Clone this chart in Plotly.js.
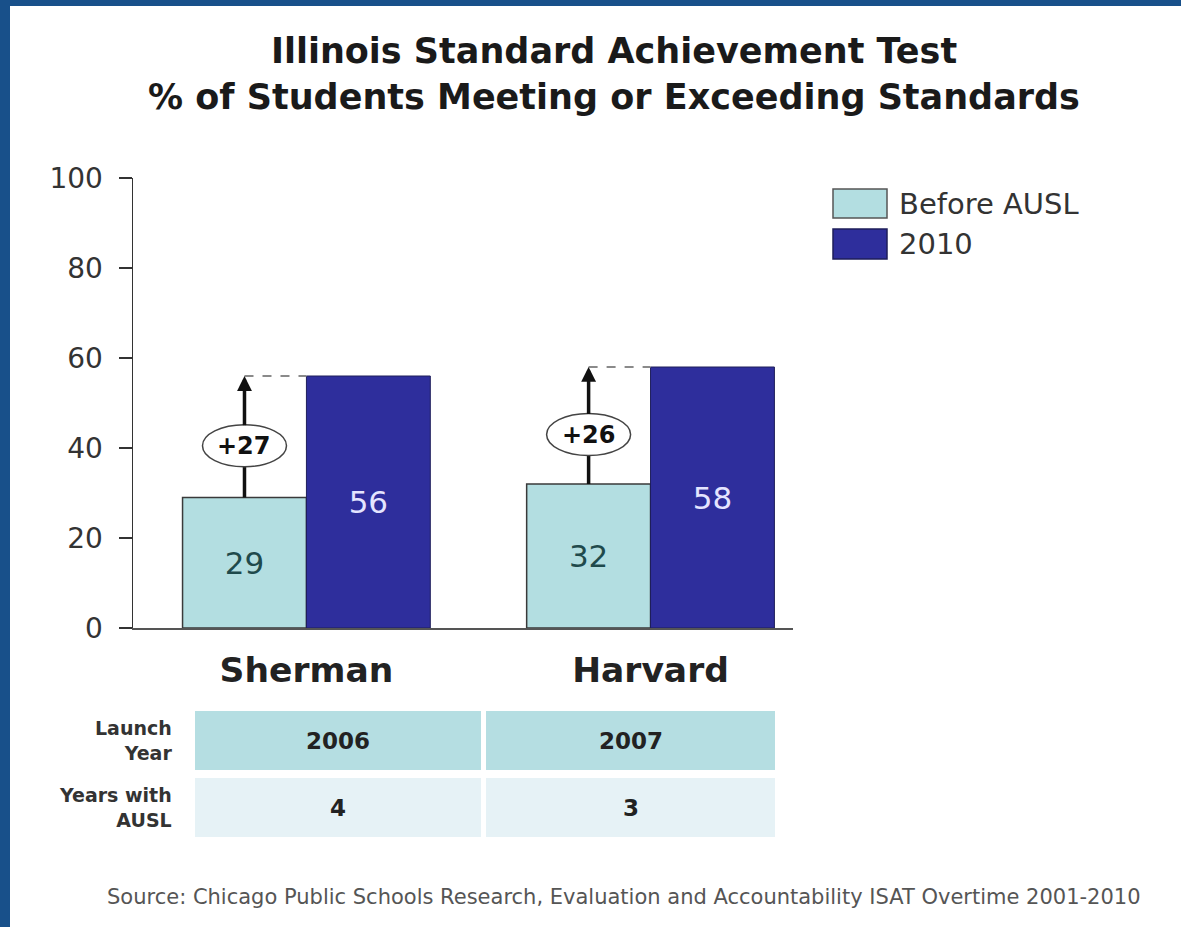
<!DOCTYPE html>
<html>
<head>
<meta charset="utf-8">
<script src="https://cdn.plot.ly/plotly-3.0.1.min.js"></script>
<style>
html,body{margin:0;padding:0;background:#18508A;width:1181px;height:927px;overflow:hidden;}
#chart{position:absolute;left:10px;top:6px;width:1171px;height:921px;background:#fff;}
</style>
</head>
<body>
<div id="chart"></div>
<script>
// ---- data ----
const schools = ["Sherman", "Harvard"];
const beforeAUSL = [29, 32];
const y2010 = [56, 58];
const gains = ["+27", "+26"];
const seriesNames = ["Before AUSL", "2010"];
const tableRowLabels = ["Launch<br>Year", "Years with<br>AUSL"];
const launchYear = ["2006", "2007"];
const yearsWithAUSL = ["4", "3"];
const yTicks = [0, 20, 40, 60, 80, 100];
const titleText = "Illinois Standard Achievement Test<br>% of Students Meeting or Exceeding Standards";
const sourceText = "Source: Chicago Public Schools Research, Evaluation and Accountability ISAT Overtime 2001-2010";

// ---- layout helpers (page px -> paper) ----
const PL = 133, PR = 793, PT = 178, PB = 628;
const X = px => (px - PL) / (PR - PL);
const Y = py => (PB - py) / (PB - PT);

const FONT = "'DejaVu Sans', 'Open Sans', sans-serif";
const C_BEFORE = "#B3DEE1", C_2010 = "#2E2E9C";

const traces = [
  {type: "bar", name: seriesNames[0], x: schools, y: beforeAUSL,
   text: beforeAUSL.map(String), textposition: "inside", insidetextanchor: "middle",
   textfont: {family: FONT, size: 31, color: "#1F4A4C"}, textangle: 0,
   marker: {color: C_BEFORE, line: {color: "#3a3a3a", width: 1.5}}, hoverinfo: "x+y"},
  {type: "bar", name: seriesNames[1], x: schools, y: y2010,
   text: y2010.map(String), textposition: "inside", insidetextanchor: "middle",
   textfont: {family: FONT, size: 31, color: "#E4E4FF"}, textangle: 0,
   marker: {color: C_2010, line: {color: "#1e1e5a", width: 1}}, hoverinfo: "x+y"}
];

const barHalf = 0.18; // half of bar width in category units (bargap 0.28)
const shapes = [], annotations = [];

schools.forEach((s, i) => {
  const xc = i - barHalf;
  const mid = (beforeAUSL[i] + y2010[i]) / 2 - 2;
  shapes.push({type: "line", xref: "x", yref: "y", x0: xc, x1: i, y0: y2010[i], y1: y2010[i],
    line: {color: "#8a8a8a", width: 2, dash: "dash"}, layer: "above"});
  shapes.push({type: "line", xref: "x", yref: "y", x0: xc, x1: xc, y0: beforeAUSL[i], y1: mid,
    line: {color: "#111", width: 3.5}, layer: "above"});
  shapes.push({type: "circle", xref: "x", yref: "y", xsizemode: "pixel", ysizemode: "pixel",
    xanchor: xc, yanchor: mid, x0: -42, x1: 42, y0: -21, y1: 21,
    fillcolor: "#fff", line: {color: "#444", width: 1.5}, layer: "above"});
  annotations.push({xref: "x", yref: "y", axref: "x", ayref: "y", x: xc, y: y2010[i], ax: xc, ay: mid,
    text: "<b>" + gains[i] + "</b>", font: {family: FONT, size: 24, color: "#111"},
    showarrow: true, arrowhead: 2, arrowsize: 0.85, arrowwidth: 3.5, arrowcolor: "#111",
    startstandoff: 5, standoff: 0});
});

// legend (custom)
const legendItems = [
  {name: seriesNames[0], color: C_BEFORE, line: "#555", y0: 189, y1: 218, ty: 204},
  {name: seriesNames[1], color: C_2010, line: "#1e1e5a", y0: 229, y1: 259, ty: 244}
];
legendItems.forEach(it => {
  shapes.push({type: "rect", xref: "paper", yref: "paper", x0: X(833), x1: X(887), y0: Y(it.y1), y1: Y(it.y0),
    fillcolor: it.color, line: {color: it.line, width: 1.5}});
  annotations.push({xref: "paper", yref: "paper", x: X(897), y: Y(it.ty), xanchor: "left", yanchor: "middle",
    text: it.name, showarrow: false, font: {family: FONT, size: 29, color: "#333"}});
});

// table
const rows = [
  {label: tableRowLabels[0], vals: launchYear, color: "#B5DEE2", y0: 711, y1: 770},
  {label: tableRowLabels[1], vals: yearsWithAUSL, color: "#E6F2F6", y0: 778, y1: 837}
];
const cols = [[195, 481], [486, 775]];
rows.forEach(r => {
  cols.forEach((c, j) => {
    shapes.push({type: "rect", xref: "paper", yref: "paper", x0: X(c[0]), x1: X(c[1]), y0: Y(r.y1), y1: Y(r.y0),
      fillcolor: r.color, line: {width: 0}});
    annotations.push({xref: "paper", yref: "paper", x: X((c[0] + c[1]) / 2), y: Y((r.y0 + r.y1) / 2),
      xanchor: "center", yanchor: "middle", text: "<b>" + r.vals[j] + "</b>", showarrow: false,
      font: {family: FONT, size: 23, color: "#222"}});
  });
  annotations.push({xref: "paper", yref: "paper", x: X(174), y: Y((r.y0 + r.y1) / 2),
    xanchor: "right", yanchor: "middle", align: "right", text: "<b>" + r.label + "</b>", showarrow: false,
    font: {family: FONT, size: 19, color: "#333"}});
});

// source
annotations.push({xref: "paper", yref: "paper", x: X(624), y: Y(897), xanchor: "center", yanchor: "middle",
  text: sourceText, showarrow: false, font: {family: FONT, size: 21, color: "#555"}});

const layout = {
  width: 1171, height: 921,
  margin: {l: PL - 10, r: 1171 - (PR - 10), t: PT - 6, b: 921 - (PB - 6), pad: 0},
  paper_bgcolor: "#fff", plot_bgcolor: "#fff",
  showlegend: false,
  barmode: "group", bargap: 0.28, bargroupgap: 0,
  title: {text: "<b>" + titleText + "</b>", x: (614 - 10) / 1171, xanchor: "center",
    y: 1 - (63 - 6) / 921, yanchor: "middle", xref: "container", yref: "container",
    font: {family: FONT, size: 35, color: "#1a1a1a"}},
  xaxis: {type: "category", range: [-0.504, 1.414], showline: true, linecolor: "#555", linewidth: 1.5,
    ticks: "", showgrid: false, zeroline: false, fixedrange: true,
    tickfont: {family: FONT, size: 34.5, color: "#222", weight: "bold"}, ticklabelstandoff: 11},
  yaxis: {range: [0, 100], tickvals: yTicks, showline: true, linecolor: "#333", linewidth: 1.5,
    ticks: "outside", ticklen: 13, tickwidth: 1.5, tickcolor: "#333", showgrid: false, zeroline: false,
    tickfont: {family: FONT, size: 28, color: "#333"}, ticklabelstandoff: 10, fixedrange: true},
  shapes: shapes, annotations: annotations
};

Plotly.newPlot("chart", traces, layout, {displayModeBar: false, staticPlot: true});
</script>
</body>
</html>
